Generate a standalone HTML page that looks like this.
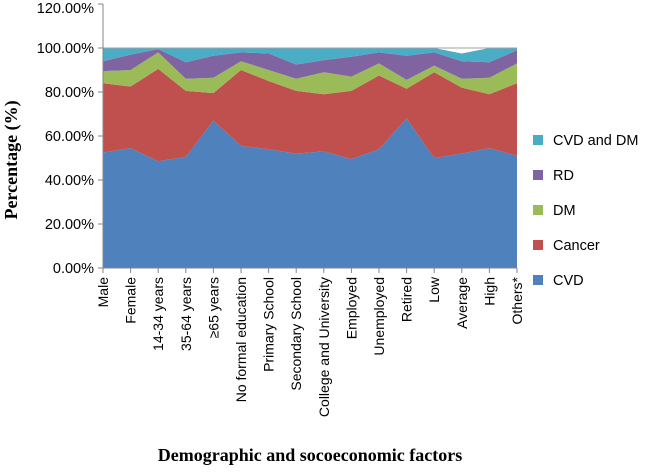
<!DOCTYPE html>
<html><head><meta charset="utf-8"><style>
body{margin:0;background:#fff;}
text{font-family:"Liberation Sans",sans-serif;}
</style></head><body>
<svg id="chart" width="650" height="468">
</svg>
<script>
const categories=["Male","Female","14-34 years","35-64 years","≥65 years","No formal education","Primary School","Secondary School","College and University","Employed","Unemployed","Retired","Low","Average","High","Others*"];
const cvd=[52.5,54.5,48.5,50.5,67,55.5,54,52,53,49.5,54,68,50,52,54.5,51];
const cancer=[31.5,28,42,30,12.5,34.5,31,28.5,26,31,33.5,13.5,39,30,24.5,33];
const dm=[5.5,7.5,7.5,5.5,7,4,5,5.5,10,6.5,5.5,4,3,4,7.5,9];
const rd=[4.5,7,1.5,7.5,10,4,7.5,6.5,5.5,9,5,11,6,8,7,6];
const cvdDm=[6,3,0.5,6.5,3.5,2,2.5,7.5,5.5,4,2,3.5,2,3.5,6.5,1];
const yTicks=[0,20,40,60,80,100,120];
const seriesNames=["CVD","Cancer","DM","RD","CVD  and DM"];
const series=[cvd,cancer,dm,rd,cvdDm];
const colors=["#4f81bd","#c0504d","#9bbb59","#8064a2","#4bacc6"];
const NS="http://www.w3.org/2000/svg";
const svg=document.getElementById('chart');
const x0=103,x1=517,y0=268,pxPer=2.2;
const xs=i=>x0+i*(x1-x0)/(categories.length-1);
const ys=v=>y0-v*pxPer;
function mk(t,a){const e=document.createElementNS(NS,t);for(const k in a)e.setAttribute(k,a[k]);svg.appendChild(e);return e;}
let base=categories.map(()=>0);
series.forEach((s,si)=>{
  const top=base.map((b,i)=>b+s[i]);
  let pts=top.map((v,i)=>xs(i)+','+ys(v));
  for(let i=categories.length-1;i>=0;i--)pts.push(xs(i)+','+ys(base[i]));
  const p=mk('polygon',{points:pts.join(' '),fill:colors[si]});
  
  
  base=top;
});
const gl=mk('line',{x1:x0,y1:ys(100),x2:x1,y2:ys(100),stroke:'#a0a0a0','stroke-width':1});

const ya=mk('line',{x1:x0,y1:ys(120),x2:x0,y2:y0,stroke:'#868686','stroke-width':1});

const xa=mk('line',{x1:x0,y1:y0,x2:x1,y2:y0,stroke:'#868686','stroke-width':1});

yTicks.forEach(t=>{
  mk('line',{x1:x0-5,y1:ys(t),x2:x0,y2:ys(t),stroke:'#868686'});
  const tx=mk('text',{x:x0-9,y:Math.max(ys(t)+5,13),'text-anchor':'end','font-size':14.5,fill:'#000'});
  tx.textContent=t.toFixed(2)+'%';
  
});
categories.forEach((c,i)=>{
  mk('line',{x1:xs(i),y1:y0,x2:xs(i),y2:y0+5,stroke:'#868686'});
  const tx=mk('text',{x:0,y:0,'text-anchor':'end','font-size':14,transform:`translate(${xs(i)+5},${y0+9}) rotate(-90)`});
  tx.textContent=c;
  
});
const legOrder=[4,3,2,1,0];
legOrder.forEach((si,k)=>{
  const y=[146,181,216,251,286][k]-2;
  const r=mk('rect',{x:533,y:y-9,width:10,height:10,fill:colors[si]});
  
  const t=mk('text',{x:553,y:y+1,'font-size':14.5});
  t.textContent=seriesNames[si];
  
});
const yt=mk('text',{x:0,y:0,'text-anchor':'middle','font-size':18,'font-weight':'bold',transform:'translate(17,160) rotate(-90)',style:'font-family:"Liberation Serif",serif'});
yt.textContent='Percentage (%)';
const xt=mk('text',{x:310,y:461,'text-anchor':'middle','font-size':18,'font-weight':'bold',style:'font-family:"Liberation Serif",serif'});
xt.textContent='Demographic and socoeconomic factors';
</script>
</body></html>
